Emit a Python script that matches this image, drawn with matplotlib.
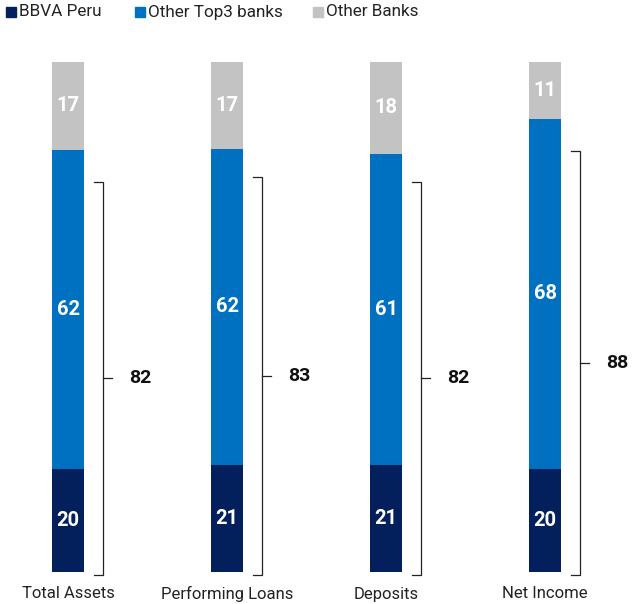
import numpy as np
import matplotlib
matplotlib.use("Agg")
import matplotlib.pyplot as plt
from matplotlib.patches import Rectangle

plt.rcParams['font.family'] = ['Roboto', 'DejaVu Sans']

# data (market share, %)
categories = ['Total Assets', 'Performing Loans', 'Deposits', 'Net Income']
bbva = [20, 21, 21, 20]
top3 = [62, 62, 61, 68]
others = [17, 17, 18, 11]
bracket_totals = [82, 83, 82, 88]
series_names = ['BBVA Peru', 'Other Top3 banks', 'Other Banks']

colors = ['#03205C', '#0070C0', '#C3C3C3']

W, H = 633, 604
fig = plt.figure(figsize=(W / 100, H / 100), dpi=100)
ax = fig.add_axes([0, 0, 1, 1])

# pixel layout -> data scale
x0_px, dx_px, bar_px = 68, 159, 32
base_px, top_px = 572, 62          # bar bottom / top (from image top)
ppu = (base_px - top_px) / 100.0  # pixels per share unit
ax.set_xlim(-x0_px / dx_px, (W - x0_px) / dx_px)
ax.set_ylim(-(H - base_px) / ppu, base_px / ppu)
ax.axis('off')

x = np.arange(len(categories))
width = bar_px / dx_px
series = np.array([bbva, top3, others], dtype=float)
shares = series / series.sum(axis=0) * 100   # stacked bars normalised to 100

bottom = np.zeros(len(categories))
for vals, shr, col in zip(series, shares, colors):
    ax.bar(x, shr, width, bottom=bottom, color=col, linewidth=0)
    for xi, v, s, b in zip(x, vals, shr, bottom):
        ax.text(xi, b + s / 2, f'{v:.0f}', ha='center', va='center',
                color='white', fontsize=14.5, fontweight='bold')
    bottom += shr

# brackets
px = 1 / ppu
for xi, tot in zip(x, bracket_totals):
    xl = xi + (bar_px / 2 + 19) / dx_px
    tick = 9 / dx_px
    y_lo = -3 * px
    y_hi = tot - 5.5
    y_mid = (y_lo + y_hi) / 2
    ax.plot([xl - tick, xl, xl, xl - tick], [y_lo, y_lo, y_hi, y_hi],
            color='#222222', lw=0.9, solid_joinstyle='miter')
    ax.plot([xl, xl + tick], [y_mid, y_mid], color='#222222', lw=0.9)
    ax.text(xl + 37 / dx_px, y_mid, str(tot), ha='center', va='center',
            fontsize=14, fontweight='bold', color='#111111')

# category labels
for xi, c in zip(x, categories):
    ax.text(xi, -(594 - base_px) * px, c, ha='center', va='center',
            fontsize=12, color='#222222')

# legend
leg_x = [6, 135, 313]
for lx, name, col in zip(leg_x, series_names, colors):
    fig.patches.append(Rectangle((lx / W, 1 - 17 / H), 10 / W, 10 / H,
                                 transform=fig.transFigure, color=col))
    fig.text((lx + 13) / W, 1 - 12 / H, name, ha='left', va='center',
             fontsize=12.3, color='#222222')

fig.savefig('out.png', dpi=100)
